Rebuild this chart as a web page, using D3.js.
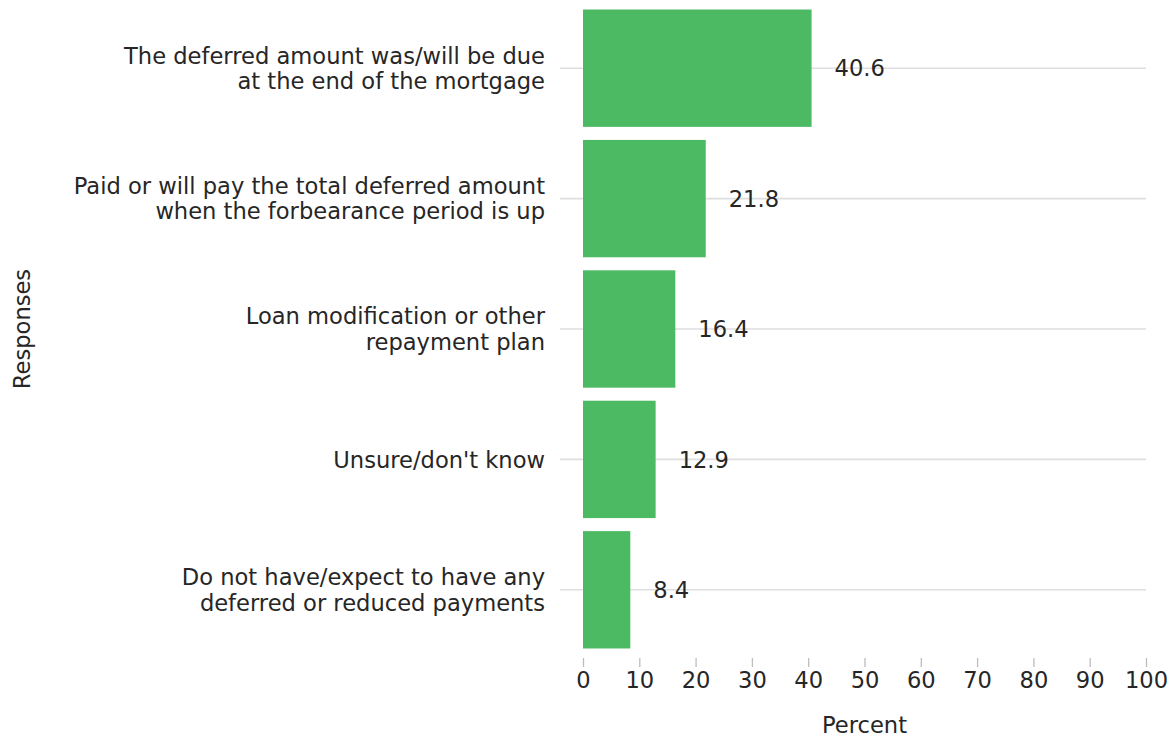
<!DOCTYPE html>
<html>
<head>
<meta charset="utf-8">
<script src="https://cdn.jsdelivr.net/npm/d3@7"></script>
<style>
  html, body { margin: 0; padding: 0; background: #fff; }
  svg { display: block; font-family: "DejaVu Sans", sans-serif; }
</style>
</head>
<body>
<svg id="chart" width="1171" height="738"></svg>
<script>
// Survey responses on how deferred mortgage payments are/were handled
const responses = [
  ["The deferred amount was/will be due", "at the end of the mortgage"],
  ["Paid or will pay the total deferred amount", "when the forbearance period is up"],
  ["Loan modification or other", "repayment plan"],
  ["Unsure/don't know"],
  ["Do not have/expect to have any", "deferred or reduced payments"]
];
const percents = [40.6, 21.8, 16.4, 12.9, 8.4];
const xTicks = [0, 10, 20, 30, 40, 50, 60, 70, 80, 90, 100];

const svg = d3.select("#chart");
const fontSize = 22.6;
const textColor = "#262626";
const barColor = "#4cb963";
const gridColor = "#dedede";

const margin = { left: 583, right: 25, top: 3, bottom: 83 };
const W = 1171, H = 738;

const x = d3.scaleLinear().domain([0, 100]).range([margin.left, W - margin.right]);
const y = d3.scaleBand()
  .domain(d3.range(percents.length))
  .range([margin.top, H - margin.bottom])
  .paddingInner(0.1)
  .paddingOuter(0.05);

// horizontal reference lines through each band centre
svg.append("g").selectAll("line")
  .data(percents)
  .join("line")
  .attr("x1", margin.left - 23)
  .attr("x2", x(100))
  .attr("y1", (d, i) => y(i) + y.bandwidth() / 2)
  .attr("y2", (d, i) => y(i) + y.bandwidth() / 2)
  .attr("stroke", gridColor)
  .attr("stroke-width", 1.6);

// bars
svg.append("g").selectAll("rect")
  .data(percents)
  .join("rect")
  .attr("x", x(0))
  .attr("y", (d, i) => y(i))
  .attr("width", d => x(d) - x(0))
  .attr("height", y.bandwidth())
  .attr("fill", barColor);

// value labels
svg.append("g").selectAll("text")
  .data(percents)
  .join("text")
  .attr("x", d => x(d) + 23)
  .attr("y", (d, i) => y(i) + y.bandwidth() / 2)
  .attr("dy", "0.36em")
  .attr("font-size", fontSize)
  .attr("fill", textColor)
  .text(d => d.toFixed(1));

// category labels, right-aligned, possibly two lines
const lineH = 25.5;
const cat = svg.append("g").selectAll("text")
  .data(responses)
  .join("text")
  .attr("text-anchor", "end")
  .attr("font-size", fontSize)
  .attr("fill", textColor)
  .attr("transform", (d, i) => `translate(${margin.left - 38},${y(i) + y.bandwidth() / 2})`);
cat.selectAll("tspan")
  .data(d => d.map((t, k) => ({ t, k, n: d.length })))
  .join("tspan")
  .attr("x", 0)
  .attr("y", d => (d.k - (d.n - 1) / 2) * lineH)
  .attr("dy", "0.36em")
  .text(d => d.t);

// x axis
const xAxis = d3.axisBottom(x).tickValues(xTicks).tickSize(9).tickPadding(5).tickFormat(d3.format("d"));
const gx = svg.append("g")
  .attr("transform", `translate(0,${H - margin.bottom + 3})`)
  .call(xAxis);
gx.select(".domain").remove();
gx.selectAll(".tick line").attr("stroke", "#bdbdbd").attr("stroke-width", 1.3);
gx.selectAll(".tick text")
  .attr("font-size", fontSize)
  .attr("font-family", "DejaVu Sans, sans-serif")
  .attr("fill", textColor);

// axis titles
svg.append("text")
  .attr("x", (x(0) + x(100)) / 2)
  .attr("y", 733)
  .attr("text-anchor", "middle")
  .attr("font-size", fontSize)
  .attr("fill", textColor)
  .text("Percent");

svg.append("text")
  .attr("transform", `translate(30,${(margin.top + H - margin.bottom) / 2}) rotate(-90)`)
  .attr("text-anchor", "middle")
  .attr("font-size", fontSize)
  .attr("fill", textColor)
  .text("Responses");
</script>
</body>
</html>
